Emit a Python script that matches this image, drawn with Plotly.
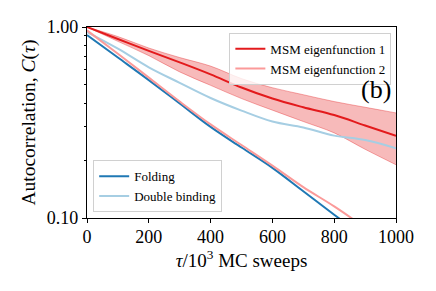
import plotly.graph_objects as go

tau = [0, 100, 200, 300, 400, 500, 600, 700, 800, 900, 1000]
folding = [0.908, 0.692, 0.527, 0.398, 0.30, 0.234, 0.183, 0.138, 0.104, 0.079, 0.060]
double_binding = [0.94, 0.77, 0.615, 0.51, 0.425, 0.365, 0.32, 0.298, 0.27, 0.256, 0.232]
msm1 = [1.0, 0.865, 0.75, 0.653, 0.565, 0.482, 0.422, 0.38, 0.346, 0.305, 0.269]
msm1_upper = [1.0, 0.891, 0.776, 0.692, 0.624, 0.537, 0.481, 0.442, 0.407, 0.38, 0.355]
msm1_lower = [1.0, 0.841, 0.708, 0.582, 0.495, 0.422, 0.367, 0.32, 0.279, 0.229, 0.19]
msm2 = [0.96, 0.724, 0.543, 0.407, 0.309, 0.241, 0.188, 0.145, 0.115, 0.089, 0.068]

x_ticks = [0, 200, 400, 600, 800, 1000]
y_ticks = [0.1, 1.0]
y_ticktext = ["0.10", "1.00"]
y_minor = [0.2, 0.3, 0.4, 0.5, 0.6, 0.7, 0.8, 0.9]

RED = "#e31a1c"
LRED = "#fb9a99"
BLUE = "#1f78b4"
LBLUE = "#a6cee3"
FONT = "Liberation Serif"

fig = go.Figure()
fig.add_trace(go.Scatter(x=tau, y=msm1_upper, mode="lines",
                         line=dict(color="rgba(227,26,28,0.35)", width=1, shape="spline"),
                         showlegend=False, hoverinfo="skip"))
fig.add_trace(go.Scatter(x=tau, y=msm1_lower, mode="lines",
                         line=dict(color="rgba(227,26,28,0.35)", width=1, shape="spline"),
                         fill="tonexty", fillcolor="rgba(227,26,28,0.3)", showlegend=False, hoverinfo="skip"))
fig.add_trace(go.Scatter(x=tau, y=folding, mode="lines", name="Folding",
                         line=dict(color=BLUE, width=2, shape="spline"), legend="legend2"))
fig.add_trace(go.Scatter(x=tau, y=double_binding, mode="lines", name="Double binding",
                         line=dict(color=LBLUE, width=2, shape="spline"), legend="legend2"))
fig.add_trace(go.Scatter(x=tau, y=msm2, mode="lines", name="MSM eigenfunction 2",
                         line=dict(color=LRED, width=2, shape="spline"), legend="legend",
                         legendrank=2))
fig.add_trace(go.Scatter(x=tau, y=msm1, mode="lines", name="MSM eigenfunction 1",
                         line=dict(color=RED, width=2, shape="spline"), legend="legend",
                         legendrank=1))

fig.add_annotation(x=0.99, y=0.675, xref="paper", yref="paper", text="(b)", showarrow=False,
                   xanchor="right", yanchor="middle", font=dict(family=FONT, size=26, color="black"))

# page has an 8px body margin, so margins are shifted accordingly
fig.update_layout(
    width=436, height=291,
    margin=dict(l=79, r=48, t=19, b=81, autoexpand=False),
    paper_bgcolor="white", plot_bgcolor="white",
    font=dict(family=FONT, size=18, color="black"),
    legend=dict(x=0.985, y=0.97, xanchor="right", yanchor="top", bgcolor="rgba(255,255,255,0.8)",
                bordercolor="#d0d0d0", borderwidth=1, font=dict(family=FONT, size=13),
                tracegroupgap=0, itemwidth=30, traceorder="normal"),
    legend2=dict(x=0.02, y=0.03, xanchor="left", yanchor="bottom", bgcolor="rgba(255,255,255,0.8)",
                 bordercolor="#d0d0d0", borderwidth=1, font=dict(family=FONT, size=13),
                 tracegroupgap=0, itemwidth=30, traceorder="normal"),
    xaxis=dict(range=[0, 1000], tickvals=x_ticks, showgrid=False, zeroline=False, showline=True,
               linecolor="black", linewidth=1.2, mirror=True, ticks="outside", ticklen=4,
               tickcolor="black", ticklabelstandoff=-2,
               title=dict(text="<i>τ</i>/10<sup>3</sup> MC sweeps", standoff=0, font=dict(size=19))),
    yaxis=dict(type="log", range=[-1, 0], tickvals=y_ticks, ticktext=y_ticktext, showgrid=False,
               zeroline=False, showline=True, linecolor="black", linewidth=1.2, mirror=True,
               ticks="outside", ticklen=4, tickcolor="black",
               minor=dict(tickvals=y_minor, ticks="outside", ticklen=2, tickcolor="black", showgrid=False),
               title=dict(text="Autocorrelation, <i>C</i>(<i>τ</i>)", standoff=5, font=dict(size=19.5))),
)

fig.write_html("out.html")
